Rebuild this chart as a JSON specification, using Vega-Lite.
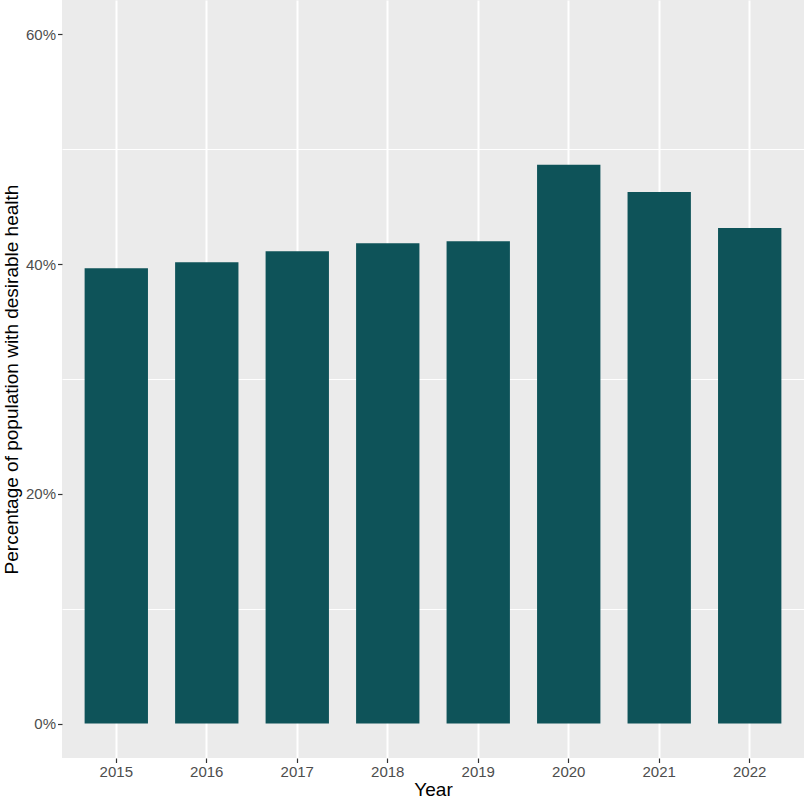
{
  "$schema": "https://vega.github.io/schema/vega-lite/v6.json",
  "width": 742,
  "height": 758,
  "autosize": "none",
  "padding": {"left": 62, "top": 0, "right": 0, "bottom": 42},
  "background": "white",
  "config": {
    "view": {"fill": "#EBEBEB", "stroke": null},
    "font": "Liberation Sans",
    "axis": {
      "labelFont": "Liberation Sans",
      "titleFont": "Liberation Sans",
      "labelFontSize": 15,
      "labelColor": "#4D4D4D",
      "titleFontSize": 19,
      "titleColor": "black",
      "titleFontWeight": "normal",
      "tickColor": "#333333",
      "tickSize": 4.5,
      "tickWidth": 1.2,
      "domain": false,
      "gridColor": "white",
      "gridWidth": 2
    }
  },
  "data": {
    "values": [
      {"Year": "2015", "Percent": 39.65},
      {"Year": "2016", "Percent": 40.17},
      {"Year": "2017", "Percent": 41.13},
      {"Year": "2018", "Percent": 41.83},
      {"Year": "2019", "Percent": 42.0},
      {"Year": "2020", "Percent": 48.65},
      {"Year": "2021", "Percent": 46.29},
      {"Year": "2022", "Percent": 43.14}
    ]
  },
  "encoding": {
    "x": {
      "field": "Year",
      "type": "ordinal",
      "title": "Year",
      "scale": {"paddingInner": 0.3, "paddingOuter": 0.25},
      "axis": {"labelAngle": 0, "labelPadding": 2, "titlePadding": 1, "grid": true, "bandPosition": 0.5}
    }
  },
  "layer": [
    {
      "mark": {"type": "bar", "opacity": 0},
      "encoding": {
        "y": {
          "field": "Percent",
          "type": "quantitative",
          "scale": {"domain": [-3, 63], "nice": false, "zero": false},
          "axis": {"orient": "right", "values": [10, 30, 50], "labels": false, "ticks": false, "title": null, "gridWidth": 1}
        }
      }
    },
    {
      "mark": {"type": "bar", "color": "#0E5359"},
      "encoding": {
        "y": {
          "field": "Percent",
          "type": "quantitative",
          "title": "Percentage of population with desirable health",
          "scale": {"domain": [-3, 63], "nice": false, "zero": false},
          "axis": {"values": [0, 20, 40, 60], "labelExpr": "datum.value + '%'", "labelPadding": 2, "titlePadding": 4}
        },
        "y2": {"datum": 0},
        "tooltip": [
          {"field": "Year", "type": "nominal"},
          {"field": "Percent", "type": "quantitative", "format": ".1f"}
        ]
      }
    }
  ],
  "resolve": {"axis": {"y": "independent"}}
}
